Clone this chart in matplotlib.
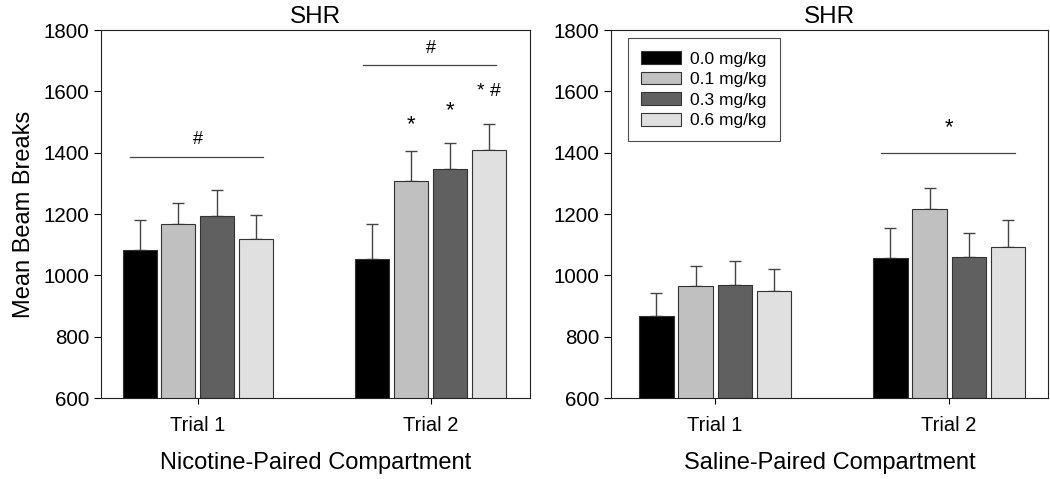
import matplotlib
matplotlib.use("Agg")
import matplotlib.pyplot as plt
import numpy as np

plt.rcParams['font.family'] = ['Liberation Sans', 'DejaVu Sans']

trials = ["Trial 1", "Trial 2"]
doses = ["0.0 mg/kg", "0.1 mg/kg", "0.3 mg/kg", "0.6 mg/kg"]
colors = ["#000000", "#c0c0c0", "#606060", "#e0e0e0"]

# Nicotine-paired compartment: rows = dose, cols = trial
nic_means = [[1082, 1052], [1169, 1309], [1194, 1347], [1119, 1410]]
nic_sem = [[98, 114], [68, 98], [83, 85], [79, 84]]
# Saline-paired compartment
sal_means = [[869, 1056], [964, 1216], [970, 1059], [949, 1092]]
sal_sem = [[73, 97], [65, 68], [78, 78], [71, 90]]

fig = plt.figure(figsize=(10.5, 4.79), dpi=100)
ax1 = fig.add_axes([0.0962, 0.169, 0.4086, 0.7683])
ax2 = fig.add_axes([0.5819, 0.169, 0.4162, 0.7683])

x = np.arange(len(trials))
width = 0.146
step = 0.167
offsets = (np.arange(4) - 1.5) * step

def draw(ax, means, sems, xlabel, xlim):
    for i in range(4):
        ax.bar(x + offsets[i], means[i], width, bottom=0, color=colors[i],
               edgecolor="#333333", linewidth=0.8, label=doses[i], zorder=2)
        ax.errorbar(x + offsets[i], means[i], yerr=[np.zeros(2), sems[i]],
                    fmt='none', ecolor="#444444", elinewidth=1.0, capsize=4,
                    capthick=1.0, zorder=1)
    ax.set_ylim(600, 1800)
    ax.set_xlim(*xlim)
    ax.set_yticks(np.arange(600, 1801, 200))
    ax.set_xticks(x)
    ax.set_xticklabels(trials, fontsize=14.5)
    ax.tick_params(axis='y', labelsize=14.8, direction='out', length=5, width=0.8)
    ax.tick_params(axis='x', direction='out', length=4, width=0.8, pad=9)
    ax.set_title("SHR", fontsize=17.5, pad=5)
    ax.set_xlabel(xlabel, fontsize=17, labelpad=12)
    for s in ax.spines.values():
        s.set_linewidth(0.8)
        s.set_color("#222222")

draw(ax1, nic_means, nic_sem, "Nicotine-Paired Compartment", (-0.416, 1.426))
draw(ax2, sal_means, sal_sem, "Saline-Paired Compartment", (-0.445, 1.423))
ax1.set_ylabel("Mean Beam Breaks", fontsize=17, labelpad=6)

lc = "#444444"
# Left annotations
ax1.plot([x[0] + offsets[0] - 0.04, x[0] + offsets[3] + 0.03], [1385, 1385], color=lc, lw=0.9)
ax1.text(x[0], 1442, "#", ha='center', va='center', fontsize=13)
ax1.plot([x[1] + offsets[0] - 0.04, x[1] + offsets[3] + 0.03], [1686, 1686], color=lc, lw=0.9)
ax1.text(x[1], 1739, "#", ha='center', va='center', fontsize=13)
ax1.text(x[1] + offsets[1], 1492, "*", ha='center', va='center', fontsize=16)
ax1.text(x[1] + offsets[2], 1537, "*", ha='center', va='center', fontsize=16)
ax1.text(x[1] + offsets[3], 1598, "* #", ha='center', va='center', fontsize=14)

# Right annotations
ax2.plot([x[1] + offsets[0] - 0.04, x[1] + offsets[3] + 0.03], [1398, 1398], color=lc, lw=0.9)
ax2.text(x[1], 1482, "*", ha='center', va='center', fontsize=16)

leg = ax2.legend(loc='upper left', bbox_to_anchor=(0.038, 0.978), fontsize=12.5,
                 frameon=True, fancybox=False, handlelength=2.3, handleheight=0.75,
                 labelspacing=0.3, borderpad=0.75, handletextpad=0.55,
                 borderaxespad=0)
leg.get_frame().set_edgecolor("#222222")
leg.get_frame().set_linewidth(0.8)

fig.savefig("out.png", dpi=100)
